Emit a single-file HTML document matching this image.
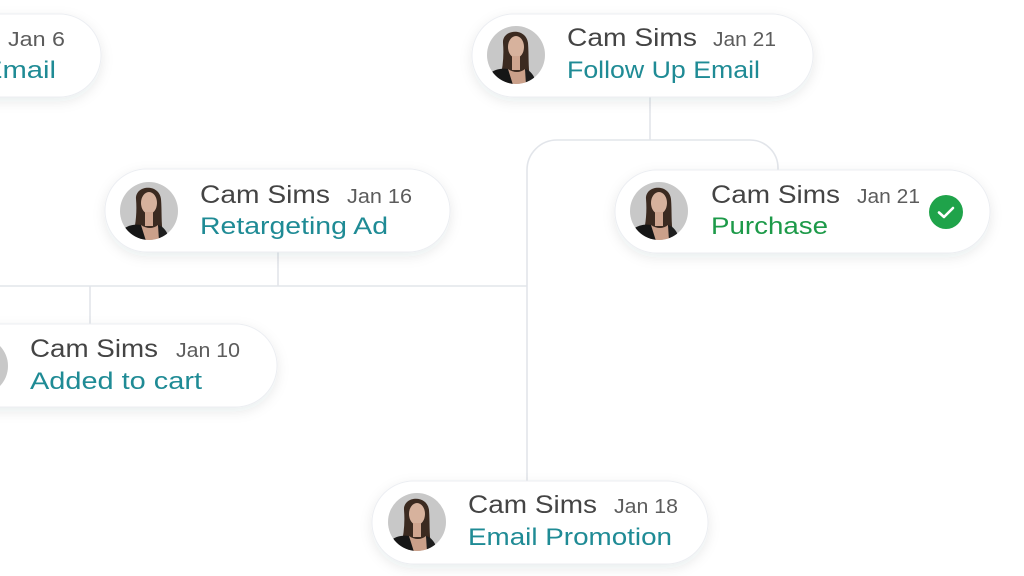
<!DOCTYPE html>
<html><head><meta charset="utf-8"><style>
html,body{margin:0;padding:0;background:#fff;width:1024px;height:576px;overflow:hidden}
svg{display:block}
text{font-family:"Liberation Sans",sans-serif}
.n{font-size:25px;fill:#444}
.d{font-size:20px;fill:#5c5c5c}
.a{font-size:24px;fill:#1f8b95}
.g{font-size:24px;fill:#1d9a49}
</style></head><body>
<svg width="1024" height="576" viewBox="0 0 1024 576" xmlns="http://www.w3.org/2000/svg">
<defs>
<filter id="sh" x="-20%" y="-40%" width="140%" height="190%">
<feDropShadow dx="0" dy="4" stdDeviation="6" flood-color="#1e2a3a" flood-opacity="0.09"/>
</filter>
<clipPath id="cc"><circle cx="0" cy="0" r="29"/></clipPath>
<g id="av">
<g clip-path="url(#cc)">
<rect x="-30" y="-30" width="60" height="60" fill="#c8c8c8"/>
<path d="M-13,-12 C-14,-26 10,-28 12,-12 C13,0 12,12 14,22 L-16,24 C-13,12 -12,0 -13,-12 Z" fill="#3b2a20"/>
<ellipse cx="0" cy="-8" rx="8" ry="11" fill="#d7b29d"/>
<rect x="-4" y="1" width="8" height="14" fill="#cfa58f"/>
<path d="M-8,14 C-2,18 4,18 9,14 L12,30 L-10,30 Z" fill="#caa08a"/>
<path d="M-30,30 L-28,20 C-22,14 -14,13 -8,14 L-3,30 Z" fill="#161616"/>
<path d="M9,14 C13,15 16,18 18,22 L20,30 L10,30 Z" fill="#1e1e1e"/>
</g>
</g>
</defs>

<!-- connectors -->
<g fill="none" stroke="#e2e5ea" stroke-width="1.6">
<line x1="650" y1="97" x2="650" y2="140"/>
<path d="M527,481 L527,170 A30,30 0 0 1 557,140 L750,140 A28,28 0 0 1 778,168 L778,171"/>
<line x1="0" y1="286" x2="527" y2="286"/>
<line x1="278" y1="252" x2="278" y2="286"/>
<line x1="90" y1="286" x2="90" y2="325"/>
</g>

<!-- node 1 (partial) -->
<g>
<rect x="-233" y="14" width="334" height="83" rx="41.5" fill="#fff" stroke="#eceef2" filter="url(#sh)"/>
<text class="n" x="-138" y="46" textLength="130" lengthAdjust="spacingAndGlyphs">Cam Sims</text>
<text class="d" x="8" y="46" textLength="57" lengthAdjust="spacingAndGlyphs">Jan 6</text>
<text class="a" x="-17" y="78" textLength="73" lengthAdjust="spacingAndGlyphs">Email</text>
</g>

<!-- node 2 -->
<g>
<rect x="472" y="14" width="341" height="83" rx="41.5" fill="#fff" stroke="#eceef2" filter="url(#sh)"/>
<use href="#av" x="516" y="55"/>
<text class="n" x="567" y="46" textLength="130" lengthAdjust="spacingAndGlyphs">Cam Sims</text>
<text class="d" x="713" y="46" textLength="63" lengthAdjust="spacingAndGlyphs">Jan 21</text>
<text class="a" x="567" y="78" textLength="193" lengthAdjust="spacingAndGlyphs">Follow Up Email</text>
</g>

<!-- node 3 -->
<g>
<rect x="105" y="169" width="345" height="83" rx="41.5" fill="#fff" stroke="#eceef2" filter="url(#sh)"/>
<use href="#av" x="149" y="211"/>
<text class="n" x="200" y="203" textLength="130" lengthAdjust="spacingAndGlyphs">Cam Sims</text>
<text class="d" x="347" y="203" textLength="65" lengthAdjust="spacingAndGlyphs">Jan 16</text>
<text class="a" x="200" y="234" textLength="188" lengthAdjust="spacingAndGlyphs">Retargeting Ad</text>
</g>

<!-- node 4 -->
<g>
<rect x="615" y="170" width="375" height="83" rx="41.5" fill="#fff" stroke="#eceef2" filter="url(#sh)"/>
<use href="#av" x="659" y="211"/>
<text class="n" x="711" y="203" textLength="129" lengthAdjust="spacingAndGlyphs">Cam Sims</text>
<text class="d" x="857" y="203" textLength="63" lengthAdjust="spacingAndGlyphs">Jan 21</text>
<text class="g" x="711" y="234" textLength="117" lengthAdjust="spacingAndGlyphs">Purchase</text>
<circle cx="946" cy="212" r="17" fill="#1fa34a"/>
<path d="M939,212.5 L944,217 L953,208" fill="none" stroke="#fff" stroke-width="2.6" stroke-linecap="round" stroke-linejoin="round"/>
</g>

<!-- node 5 -->
<g>
<rect x="-65" y="324" width="342" height="83" rx="41.5" fill="#fff" stroke="#eceef2" filter="url(#sh)"/>
<use href="#av" x="-21" y="366"/>
<text class="n" x="30" y="357" textLength="128" lengthAdjust="spacingAndGlyphs">Cam Sims</text>
<text class="d" x="176" y="357" textLength="64" lengthAdjust="spacingAndGlyphs">Jan 10</text>
<text class="a" x="30" y="389" textLength="172" lengthAdjust="spacingAndGlyphs">Added to cart</text>
</g>

<!-- node 6 -->
<g>
<rect x="372" y="481" width="336" height="83" rx="41.5" fill="#fff" stroke="#eceef2" filter="url(#sh)"/>
<use href="#av" x="417" y="522"/>
<text class="n" x="468" y="513" textLength="129" lengthAdjust="spacingAndGlyphs">Cam Sims</text>
<text class="d" x="614" y="513" textLength="64" lengthAdjust="spacingAndGlyphs">Jan 18</text>
<text class="a" x="468" y="545" textLength="204" lengthAdjust="spacingAndGlyphs">Email Promotion</text>
</g>
</svg>
</body></html>
